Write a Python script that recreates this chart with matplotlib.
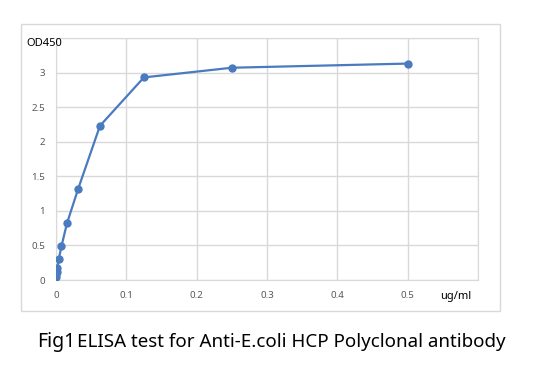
import matplotlib
matplotlib.use("Agg")
import matplotlib.pyplot as plt
from matplotlib.patches import Rectangle

conc = [0, 0.00049, 0.00098, 0.00195, 0.0039, 0.0078, 0.0156, 0.03125, 0.0625, 0.125, 0.25, 0.5]
od450 = [0.05, 0.08, 0.12, 0.17, 0.30, 0.49, 0.82, 1.31, 2.23, 2.93, 3.07, 3.13]
xticks = [0, 0.1, 0.2, 0.3, 0.4, 0.5]
xticklabels = ["0", "0.1", "0.2", "0.3", "0.4", "0.5"]
yticks = [0, 0.5, 1, 1.5, 2, 2.5, 3]
yticklabels = ["0", "0.5", "1", "1.5", "2", "2.5", "3"]

plt.rcParams['font.family'] = ['Noto Sans', 'DejaVu Sans']
W, H = 536, 382
fig = plt.figure(figsize=(W/100, H/100), dpi=100)
fig.patch.set_facecolor('white')

# outer chart frame
fig.add_artist(Rectangle((21/W, 1-311/H), (500-21)/W, (311-24)/H, transform=fig.transFigure,
                         fill=False, edgecolor='#d9d9d9', linewidth=1))

ax = fig.add_axes([56/W, 1-280/H, (478-56)/W, (280-38)/H])
ax.plot(conc, od450, color='#4a7abf', linewidth=1.6, marker='o', markersize=5,
        markerfacecolor='#4a7abf', markeredgecolor='#4a7abf', zorder=3)
ax.set_xlim(0, 0.6)
ax.set_ylim(0, 3.5)
ax.set_xticks(xticks + [0.6])
ax.set_xticklabels(xticklabels + [""])
ax.set_yticks(yticks + [3.5])
ax.set_yticklabels(yticklabels + [""])
ax.grid(True, color='#d9d9d9', linewidth=1)
ax.set_axisbelow(True)
for s in ['left', 'bottom', 'top', 'right']:
    ax.spines[s].set_color('#d9d9d9')
ax.tick_params(length=0, labelsize=7, colors='#595959', pad=8)

fig.text(26/W, 1-44/H, "OD450", fontsize=8, color='black', ha='left', va='center')
fig.text(440/W, 1-297/H, "ug/ml", fontsize=8, color='black', ha='left', va='center')
fig.text(37/W, 1-342/H, "Fig1", fontsize=14, color='black', ha='left', va='center')
fig.text(77/W, 1-342/H, "ELISA test for Anti-E.coli HCP Polyclonal antibody", fontsize=13.5, color='black',
         ha='left', va='center')

fig.savefig("out.png", dpi=100, facecolor='white')
